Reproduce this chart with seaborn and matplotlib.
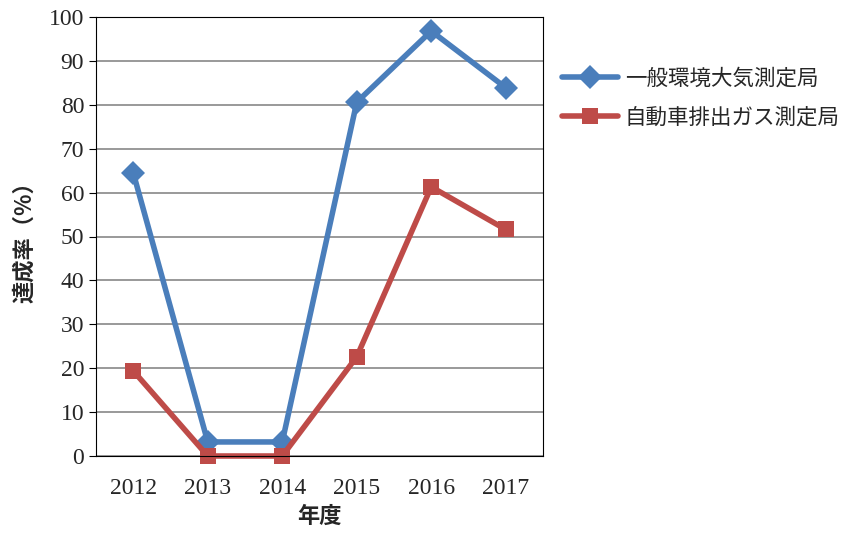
import matplotlib
matplotlib.use("Agg")
import matplotlib.pyplot as plt
import pandas as pd
import seaborn as sns

years = ["2012", "2013", "2014", "2015", "2016", "2017"]
general = [64.5, 3.2, 3.2, 80.6, 96.8, 83.9]
roadside = [19.4, 0.0, 0.0, 22.6, 61.3, 51.6]
names = ["一般環境大気測定局", "自動車排出ガス測定局"]

df = pd.DataFrame({"年度": years * 2,
                   "達成率": general + roadside,
                   "局": [names[0]] * 6 + [names[1]] * 6})

sns.set_style("white")
plt.rcParams['font.family'] = ['Liberation Serif', 'Noto Sans CJK JP']

fig = plt.figure(figsize=(8.56, 5.37), dpi=100)
ax = fig.add_axes([96 / 856, 1 - 456 / 537, 447 / 856, 439 / 537])
sns.lineplot(data=df, x="年度", y="達成率", hue="局", style="局",
             palette=["#4a7ebb", "#be4b48"], markers=["D", "s"], dashes=False,
             markersize=12, linewidth=4, markeredgewidth=0, ax=ax, sort=False)
for ln in ax.lines:
    ln.set_clip_on(False)
ax.set_ylim(0, 100)
ax.set_xlim(-0.5, 5.5)
ax.set_yticks(range(0, 101, 10))
ax.yaxis.grid(True, color="#888888", linewidth=1.2)
for s in ax.spines.values():
    s.set_color("black")
ax.tick_params(axis="both", labelsize=17, direction="out", length=5, color="black",
               left=True, bottom=True)
ax.set_xticks([i - 0.5 for i in range(7)], minor=True)
ax.tick_params(axis="x", which="major", length=0, pad=16)
ax.tick_params(axis="x", which="minor", length=5, color="black")
ax.set_xlabel("年度", fontsize=16, family=['Noto Sans CJK JP'], fontweight="bold", labelpad=4)
ax.set_ylabel("達成率（%）", fontsize=16, family=['Noto Sans CJK JP'], fontweight="bold", labelpad=9)
ax.legend(loc="upper left", bbox_to_anchor=(1.0, 0.93), frameon=False,
          prop={'family': 'Noto Sans CJK JP', 'size': 15.5}, handlelength=2.6,
          handletextpad=0.3, labelspacing=0.8, borderaxespad=0.5)
fig.savefig("out.png", dpi=100)
